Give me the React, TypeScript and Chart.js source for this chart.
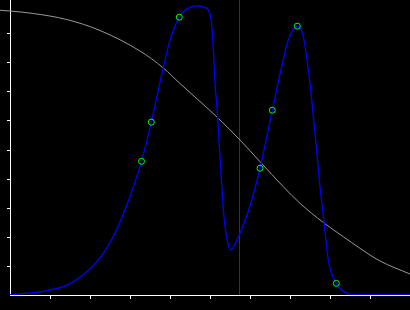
import React, { useEffect, useRef } from "react";
import { Chart, registerables } from "chart.js";

Chart.register(...registerables);

// Blue density curve (x, y)
const blueX = [0, 0.25, 0.575, 1.0, 1.425, 1.825, 2.25, 2.625, 2.95, 3.2875, 3.5325, 3.83, 4.0, 4.2325, 4.5, 4.7, 4.875, 4.9575, 5.03, 5.075, 5.125, 5.18, 5.215, 5.25, 5.285, 5.3175, 5.35, 5.4, 5.46, 5.52, 5.58, 5.67, 5.75, 6.0, 6.25, 6.5575, 6.7925, 6.9575, 7.1825, 7.3325, 7.5, 7.625, 7.75, 7.85, 7.9575, 8.1575, 8.4175, 8.67, 10];
const blueY = [0.01, 0.035, 0.08, 0.17, 0.34, 0.69, 1.28, 2.14, 3.21, 4.61, 5.96, 7.82, 8.79, 9.58, 9.92, 9.97, 9.91, 9.83, 9.48, 8.69, 7.31, 6.38, 5.59, 4.76, 3.97, 3.28, 2.69, 2.13, 1.72, 1.56, 1.64, 1.89, 2.13, 3.07, 4.37, 6.37, 7.87, 8.79, 9.27, 8.91, 7.3, 5.58, 3.73, 2.53, 1.21, 0.4, 0.06, 0.0, 0.0];

// Gray decreasing curve
const grayX = [-0.25, 0, 0.583, 1.417, 2.25, 3.25, 3.833, 4.25, 4.75, 5.208, 5.75, 6.25, 6.833, 7.25, 7.833, 8.333, 8.75, 9.25, 10];
const grayY = [9.817, 9.793, 9.707, 9.5, 9.121, 8.414, 7.828, 7.293, 6.672, 6.093, 5.345, 4.597, 3.734, 3.162, 2.5, 2.01, 1.61, 1.172, 0.724];

// Green sample points
const ptX = [3.2875, 3.5325, 4.2325, 6.25, 6.5575, 7.1825, 8.1575];
const ptY = [4.61, 5.96, 9.58, 4.37, 6.37, 9.27, 0.4];

// Vertical marker
const markerX = 5.7375;

const xMin = 0;
const xMax = 10;
const yMin = 0;
const yMax = 295 / 29;

const zip = (xs: number[], ys: number[]) => xs.map((x, i) => ({ x, y: ys[i] }));

export default function App() {
  const ref = useRef<HTMLCanvasElement | null>(null);
  useEffect(() => {
    document.body.style.margin = "0";
    document.body.style.background = "#000";
    const canvas = ref.current!;
    const keepInner = (scale: any) => {
      scale.ticks = scale.ticks.filter(
        (t: any) => Number.isInteger(t.value) && t.value >= 1 && t.value <= 9
      );
    };
    const chart = new Chart(canvas, {
      type: "line",
      data: {
        datasets: [
          {
            data: zip(ptX, ptY),
            showLine: false,
            pointRadius: 3,
            pointBorderWidth: 1,
            pointBorderColor: "#00ff00",
            pointBackgroundColor: "rgba(0,0,0,0)",
            borderColor: "#00ff00",
          },
          {
            data: zip(blueX, blueY),
            borderColor: "#0000ff",
            borderWidth: 1.3,
            pointRadius: 0,
            cubicInterpolationMode: "monotone",
          },
          {
            data: zip(grayX, grayY),
            borderColor: "#999999",
            borderWidth: 1,
            pointRadius: 0,
            cubicInterpolationMode: "monotone",
            clip: false as any,
          },
          {
            data: [
              { x: markerX, y: yMin },
              { x: markerX, y: yMax },
            ],
            borderColor: "#800080",
            borderWidth: 1,
            pointRadius: 0,
          },
        ],
      },
      options: {
        animation: false,
        responsive: false,
        devicePixelRatio: 1,
        layout: { autoPadding: false, padding: { left: 7, right: 0, top: 0, bottom: 11 } },
        plugins: { legend: { display: false }, tooltip: { enabled: false } },
        events: [],
        scales: {
          x: {
            type: "linear",
            min: xMin,
            max: xMax,
            ticks: { display: false, stepSize: 1 },
            afterBuildTicks: keepInner,
            grid: {
              drawOnChartArea: false,
              drawTicks: true,
              tickLength: 4,
              color: "#ffffff",
              tickColor: "#ffffff",
              lineWidth: 1,
            },
            border: { color: "#ffffff", width: 1 },
          },
          y: {
            type: "linear",
            min: yMin,
            max: yMax,
            ticks: { display: false, stepSize: 1 },
            afterBuildTicks: keepInner,
            grid: {
              drawOnChartArea: false,
              drawTicks: true,
              tickLength: 3,
              color: "#ffffff",
              tickColor: "#ffffff",
              lineWidth: 1,
            },
            border: { color: "#ffffff", width: 1 },
          },
        },
      },
    });
    return () => chart.destroy();
  }, []);
  return (
    <div style={{ width: 410, height: 310, background: "#000" }}>
      <canvas ref={ref} width={410} height={310} style={{ display: "block" }} />
    </div>
  );
}
